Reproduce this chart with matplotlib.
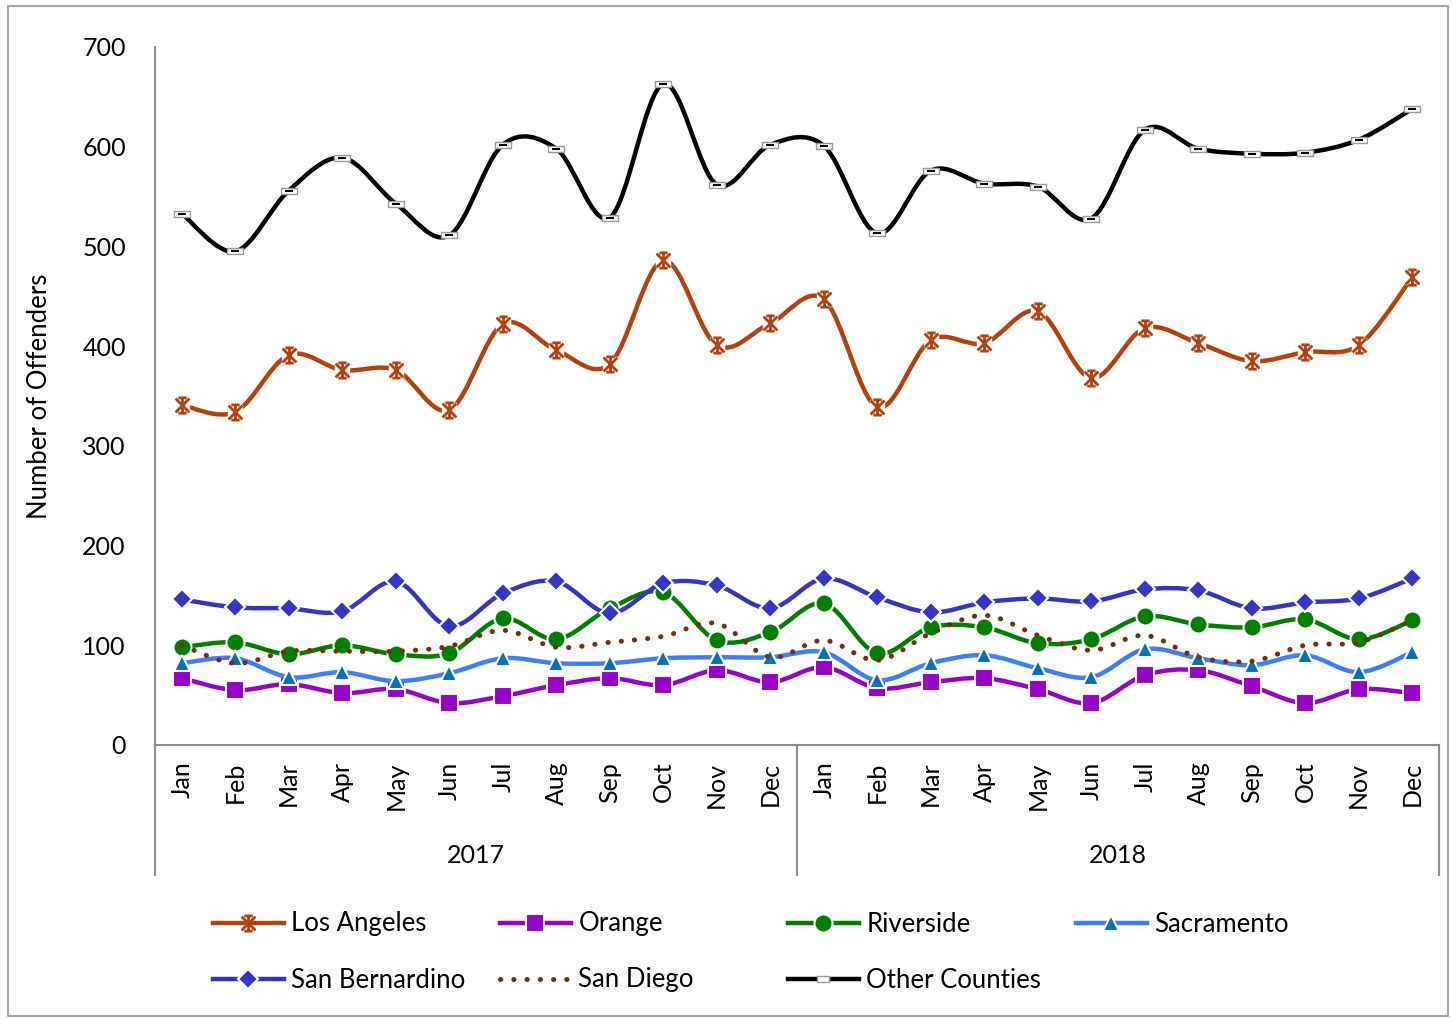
import matplotlib
matplotlib.use('Agg')
import matplotlib.pyplot as plt
from matplotlib.path import Path
from matplotlib.patches import PathPatch, Rectangle
from matplotlib.lines import Line2D
import numpy as np

plt.rcParams['font.family'] = ['Lato', 'DejaVu Sans']

months = ['Jan', 'Feb', 'Mar', 'Apr', 'May', 'Jun',
          'Jul', 'Aug', 'Sep', 'Oct', 'Nov', 'Dec'] * 2
years = ['2017', '2018']

los_angeles = [341, 334, 391, 376, 376, 336, 422, 396, 382, 486, 401, 423,
               447, 339, 406, 403, 435, 368, 418, 403, 385, 394, 401, 469]
orange = [67, 55, 61, 52, 56, 42, 49, 60, 67, 60, 75, 63,
          78, 57, 63, 67, 56, 42, 70, 75, 59, 42, 56, 52]
riverside = [98, 103, 91, 100, 91, 92, 127, 106, 137, 153, 105, 113,
             142, 92, 118, 118, 102, 106, 129, 121, 118, 126, 106, 125]
sacramento = [82, 87, 68, 73, 64, 72, 87, 82, 82, 87, 88, 88,
              93, 65, 82, 90, 77, 68, 96, 87, 80, 90, 73, 93]
san_bernardino = [146, 138, 137, 134, 164, 119, 152, 164, 132, 162, 160, 137,
                  167, 148, 133, 143, 147, 144, 156, 155, 137, 143, 147, 167]
san_diego = [100, 82, 94, 94, 94, 99, 115, 98, 103, 109, 122, 88,
             105, 85, 112, 130, 110, 95, 110, 88, 84, 100, 103, 125]
other_counties = [533, 495, 556, 589, 543, 511, 602, 598, 529, 663, 562, 602,
                  601, 513, 576, 563, 560, 528, 617, 598, 593, 594, 607, 638]


def smooth_path(y):
    # Excel-style smoothed line: Catmull-Rom segments as cubic Beziers
    pts = np.column_stack([np.arange(len(y)), y]).astype(float)
    n = len(pts)
    verts = [pts[0]]
    codes = [Path.MOVETO]
    for i in range(n - 1):
        p0 = pts[i - 1] if i > 0 else pts[i]
        p1, p2 = pts[i], pts[i + 1]
        p3 = pts[i + 2] if i + 2 < n else pts[i + 1]
        verts += [p1 + (p2 - p0) / 6, p2 - (p3 - p1) / 6, p2]
        codes += [Path.CURVE4] * 3
    return Path(verts, codes)


star = Path([(-1, -1), (1, 1), (-1, 1), (1, -1), (0, -1.1), (0, 1.1),
             (-0.6, 1.1), (0.6, 1.1), (-0.6, -1.1), (0.6, -1.1)],
            [Path.MOVETO, Path.LINETO] * 5)
dash = Path([(-1, -0.45), (1, -0.45), (1, 0.45), (-1, 0.45), (-1, -0.45)],
            [Path.MOVETO, Path.LINETO, Path.LINETO, Path.LINETO, Path.CLOSEPOLY])

fig = plt.figure(figsize=(14.52, 10.19), dpi=100)
fig.patches.append(Rectangle((8 / 1452, 3 / 1019), 1440 / 1452, 1010 / 1019,
                             transform=fig.transFigure, fill=False,
                             edgecolor='#a6a6a6', lw=1.5))
ax = fig.add_axes([155 / 1452, 1 - 745 / 1019, 1284 / 1452, 698 / 1019])
x = np.arange(24)

series = [
    ('Los Angeles', los_angeles, '#b5410c', '-'),
    ('Orange', orange, '#9900cc', '-'),
    ('Riverside', riverside, '#008000', '-'),
    ('Sacramento', sacramento, '#3d7eff', '-'),
    ('San Bernardino', san_bernardino, '#3535c8', '-'),
    ('San Diego', san_diego, '#7b2c0a', ':'),
    ('Other Counties', other_counties, '#000000', '-'),
]

handles = []
for z, (name, vals, col, ls) in enumerate(series):
    zo = 3 + z
    if ls == ':':
        patch = PathPatch(smooth_path(vals), fill=False, edgecolor=col, lw=3.6,
                          linestyle=(0, (0.05, 2.6)), capstyle='round', zorder=zo)
        ax.add_patch(patch)
        handles.append(Line2D([], [], color=col, lw=3.6, linestyle=(0, (0.05, 2.6)),
                              dash_capstyle='round'))
        continue
    ax.add_patch(PathPatch(smooth_path(vals), fill=False, edgecolor=col, lw=3.2,
                           capstyle='round', joinstyle='round', zorder=zo))
    if name == 'Los Angeles':
        ax.plot(x, vals, ls='none', marker='s', ms=10, mfc='white', mec='white', zorder=zo)
        ax.plot(x, vals, ls='none', marker=star, ms=11, mec=col, mew=2, zorder=zo)
        h = Line2D([], [], color=col, lw=3.2, marker=star, ms=11, mec=col, mew=2)
    elif name == 'Orange':
        ax.plot(x, vals, ls='none', marker='s', ms=13, mfc=col, mec='white', mew=1.5, zorder=zo)
        h = Line2D([], [], color=col, lw=3.2, marker='s', ms=13, mfc=col, mec='white', mew=1.5)
    elif name == 'Riverside':
        ax.plot(x, vals, ls='none', marker='o', ms=13, mfc=col, mec='white', mew=1.5, zorder=zo)
        h = Line2D([], [], color=col, lw=3.2, marker='o', ms=13, mfc=col, mec='white', mew=1.5)
    elif name == 'Sacramento':
        ax.plot(x, vals, ls='none', marker='^', ms=12, mfc='#0070c0', mec='white', mew=1.5, zorder=zo)
        h = Line2D([], [], color=col, lw=3.2, marker='^', ms=12, mfc='#0070c0', mec='white', mew=1.5)
    elif name == 'San Bernardino':
        ax.plot(x, vals, ls='none', marker='D', ms=10, mfc=col, mec='white', mew=1.5, zorder=zo)
        h = Line2D([], [], color=col, lw=3.2, marker='D', ms=10, mfc=col, mec='white', mew=1.5)
    else:
        ax.plot(x, vals, ls='none', marker=dash, ms=11, mfc='white', mec='#999999', mew=1, zorder=zo)
        ax.plot(x, vals, ls='none', marker='_', ms=6, mec='black', mew=1.5, zorder=zo)
        h = Line2D([], [], color=col, lw=3.2, marker=dash, ms=9, mfc='white', mec='#999999', mew=1)
    handles.append(h)

ax.set_xlim(-0.5, 23.5)
ax.set_ylim(0, 700)
ax.set_yticks(range(0, 701, 100))
ax.set_xticks(x)
ax.set_xticklabels(months, rotation=90)
ax.tick_params(axis='both', length=0, labelsize=18)
ax.tick_params(axis='x', pad=12)
ax.tick_params(axis='y', pad=21)
for s in ['top', 'right']:
    ax.spines[s].set_visible(False)
for s in ['left', 'bottom']:
    ax.spines[s].set_color('#8c8c8c')
    ax.spines[s].set_linewidth(1.5)
ax.set_ylabel('Number of Offenders', fontsize=18.5)
ax.yaxis.set_label_coords(-0.0802, 0.5)

# two-level category axis: group separators and year labels
trans = ax.get_xaxis_transform()
for xb in [-0.5, 11.5, 23.5]:
    ax.plot([xb, xb], [0, -0.186], transform=trans, clip_on=False,
            color='#8c8c8c', lw=1.5)
for i, yr in enumerate(years):
    ax.text(5.5 + 12 * i, -0.159, yr, transform=trans, ha='center', va='center',
            fontsize=18)

# legend laid out as in the original: four columns, two rows
col_x = [213, 500, 788, 1076]
row_y = [924, 980]
for i, (h, (name, *_)) in enumerate(zip(handles, series)):
    r, c = divmod(i, 4)
    fig.legend([h], [name], loc='center left',
               bbox_to_anchor=(col_x[c] / 1452, 1 - row_y[r] / 1019),
               frameon=False, fontsize=18.5, handlelength=2.75, handletextpad=0.3,
               borderpad=0, borderaxespad=0)

fig.savefig('out.png', dpi=100)
